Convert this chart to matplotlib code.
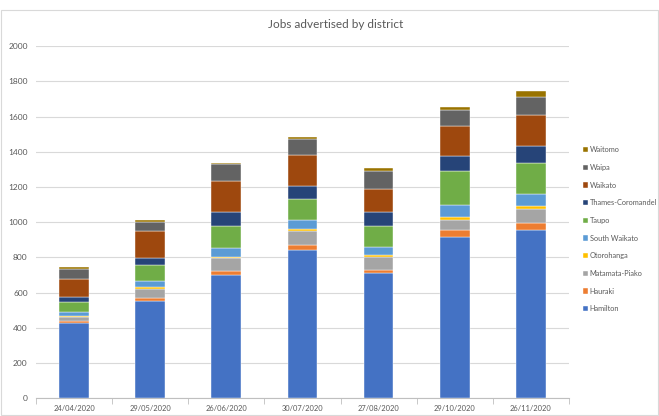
import matplotlib
matplotlib.use("Agg")
import matplotlib.pyplot as plt
import numpy as np

# data
dates = ['24/04/2020', '29/05/2020', '26/06/2020', '30/07/2020', '27/08/2020', '29/10/2020', '26/11/2020']
districts = ['Hamilton', 'Hauraki', 'Matamata-Piako', 'Otorohanga', 'South Waikato',
             'Taupo', 'Thames-Coromandel', 'Waikato', 'Waipa', 'Waitomo']
hamilton = [426, 553, 703, 841, 710, 918, 956]
hauraki = [11, 17, 20, 30, 19, 38, 38]
matamata = [23, 53, 74, 79, 72, 57, 83]
otorohanga = [8, 8, 8, 12, 13, 19, 17]
south_waikato = [24, 35, 51, 51, 47, 66, 67]
taupo = [53, 90, 125, 118, 120, 192, 174]
thames = [29, 43, 78, 75, 78, 87, 100]
waikato = [104, 153, 178, 178, 132, 172, 176]
waipa = [55, 51, 91, 89, 99, 89, 103]
waitomo = [11, 10, 7, 10, 17, 19, 30]
series = [hamilton, hauraki, matamata, otorohanga, south_waikato,
          taupo, thames, waikato, waipa, waitomo]
colors = ['#4472C4', '#ED7D31', '#A5A5A5', '#FFC000', '#5B9BD5',
          '#70AD47', '#264478', '#9E480E', '#636363', '#997300']

plt.rcParams['font.family'] = ['Lato', 'DejaVu Sans']
fig = plt.figure(figsize=(6.59, 4.16), dpi=100)
ax = fig.add_axes([0.0546, 0.0425, 0.8088, 0.8465])

x = np.arange(len(dates))
bottom = np.zeros(len(dates))
handles = []
for name, vals, c in zip(districts, series, colors):
    b = ax.bar(x, vals, width=0.39, bottom=bottom, color=c, label=name,
               edgecolor='white', linewidth=0.3, zorder=3)
    handles.append(b)
    bottom += np.array(vals)

ax.set_xlim(-0.5, len(dates) - 0.5)
ax.set_ylim(0, 2000)
ax.set_yticks(range(0, 2001, 200))
ax.grid(axis='y', color='#D9D9D9', linewidth=0.8, zorder=0)
for s in ['top', 'right', 'left']:
    ax.spines[s].set_visible(False)
ax.spines['bottom'].set_color('#BFBFBF')
ax.set_xticks(x)
ax.set_xticklabels(dates)
ax.set_xticks(np.arange(-0.5, len(dates)), minor=True)
ax.tick_params(axis='x', which='major', length=0, labelsize=5.4, colors='#595959', pad=5)
ax.tick_params(axis='x', which='minor', length=4, color='#BFBFBF')
ax.tick_params(axis='y', length=0, labelsize=6, colors='#595959', pad=6)

fig.text(0.51, 0.942, 'Jobs advertised by district', ha='center', va='center',
         fontsize=8.5, color='#595959')

leg = fig.legend(handles[::-1], districts[::-1], loc='center left',
                 bbox_to_anchor=(0.884, 0.449), frameon=False, fontsize=5.3,
                 handlelength=0.7, handleheight=0.7, handletextpad=0.25,
                 labelspacing=1.45, borderaxespad=0, borderpad=0)
for t in leg.get_texts():
    t.set_color('#595959')

# outer border like the spreadsheet chart area
fig.patches.append(plt.Rectangle((0.002, 0.002), 0.996, 0.975, transform=fig.transFigure,
                                 fill=False, edgecolor='#D9D9D9', linewidth=0.8))

fig.savefig('out.png', dpi=100)
